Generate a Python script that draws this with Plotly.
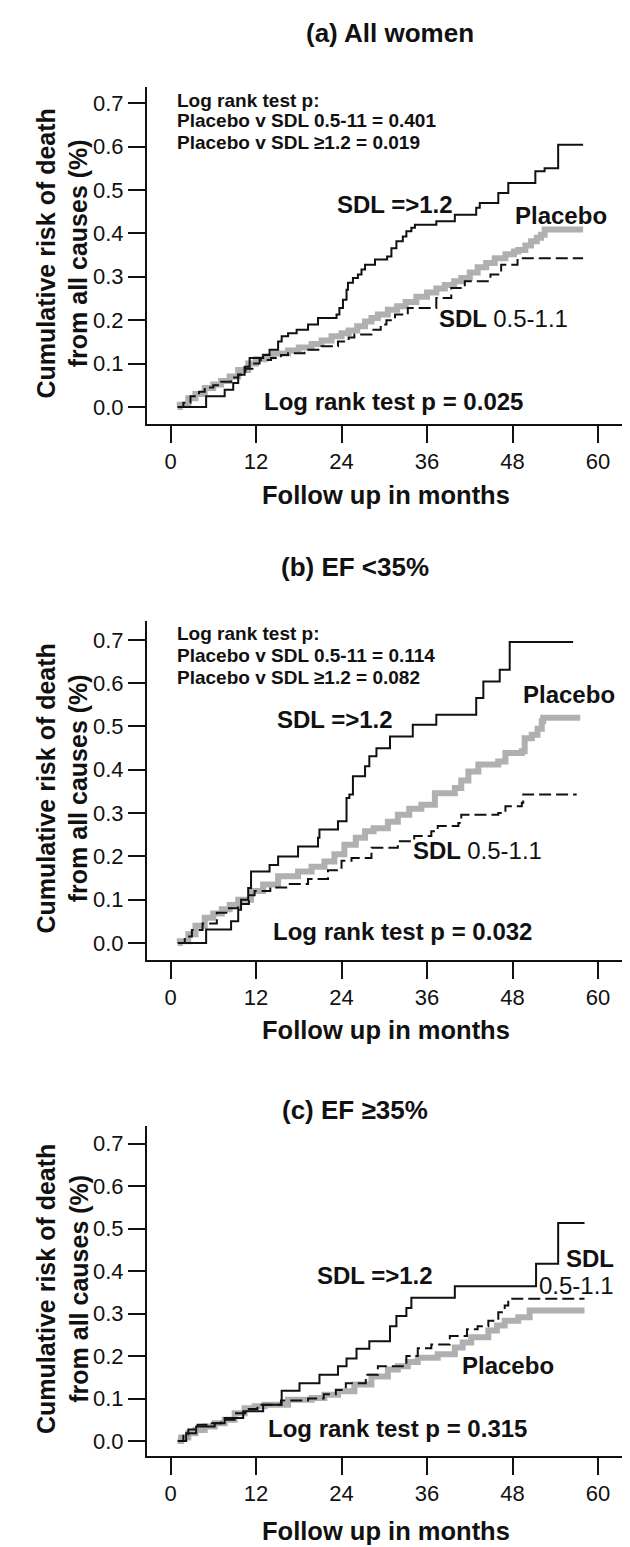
import plotly.graph_objects as go

# ---------------- data (months, cumulative risk) ----------------
# Panel (a) All women
a_hi_t = [1.0,5.0,7.6,8.8,9.5,10.4,11.1,13.0,13.9,15.1,15.6,16.5,17.7,19.3,20.7,23.3,23.7,24.2,24.7,24.9,25.6,26.3,26.8,27.3,28.7,30.4,31.0,31.7,32.6,33.1,33.8,34.3,37.3,39.9,42.9,43.4,46.0,47.4,51.2,52.5,54.4,57.9]
a_hi_v = [0.0,0.025,0.040,0.055,0.074,0.093,0.113,0.12,0.132,0.151,0.163,0.17,0.178,0.19,0.205,0.213,0.228,0.247,0.27,0.286,0.297,0.305,0.317,0.328,0.34,0.347,0.366,0.382,0.393,0.405,0.413,0.42,0.428,0.443,0.459,0.47,0.493,0.516,0.543,0.55,0.604,0.604]
a_pl_t = [1.0,1.3,2.5,3.5,4.8,6.0,7.1,8.3,9.5,10.9,12.0,13.2,14.5,16.5,18.0,19.8,21.2,22.6,24.0,25.0,26.2,27.3,28.2,29.1,30.5,31.8,33.0,34.5,36.0,37.3,38.5,39.8,40.8,42.0,43.1,44.3,45.5,47.0,48.2,48.8,49.8,50.6,51.4,52.0,52.5,57.9]
a_pl_v = [0.0,0.005,0.02,0.03,0.044,0.052,0.06,0.07,0.085,0.1,0.11,0.117,0.123,0.13,0.137,0.145,0.153,0.163,0.17,0.176,0.186,0.197,0.205,0.213,0.224,0.232,0.242,0.254,0.264,0.273,0.281,0.29,0.297,0.31,0.322,0.332,0.343,0.352,0.358,0.362,0.372,0.382,0.39,0.397,0.409,0.409]
a_lo_t = [1.0,1.8,2.8,4.0,4.8,6.0,7.1,8.5,9.5,10.5,11.5,12.5,14.1,15.5,16.5,18.8,21.2,23.5,25.0,25.8,28.2,29.5,30.3,31.5,33.3,37.3,39.4,41.3,44.9,46.4,48.7,57.9]
a_lo_v = [0.0,0.01,0.025,0.035,0.045,0.05,0.058,0.068,0.075,0.088,0.1,0.108,0.113,0.12,0.124,0.132,0.14,0.151,0.16,0.167,0.178,0.19,0.2,0.213,0.228,0.251,0.274,0.29,0.305,0.328,0.343,0.343]

# Panel (b) EF <35%
b_hi_t = [1.05,5.0,8.5,9.5,9.9,10.9,11.3,13.9,15.1,17.9,20.7,20.9,23.5,24.7,25.1,25.6,27.3,27.9,28.9,30.8,34.0,37.3,42.9,43.9,46.2,47.6,56.5]
b_hi_v = [0.0,0.031,0.05,0.077,0.1,0.127,0.165,0.18,0.2,0.223,0.243,0.262,0.281,0.335,0.343,0.385,0.408,0.431,0.45,0.477,0.504,0.527,0.566,0.604,0.631,0.695,0.695]
b_pl_t = [1.0,1.3,2.5,3.5,4.8,6.0,7.2,8.3,9.5,11.3,13.0,15.1,17.9,19.8,21.6,23.0,24.4,26.0,27.3,28.5,30.5,31.9,33.5,35.2,37.1,39.9,40.8,41.8,43.2,46.0,47.0,49.3,49.7,50.7,51.5,52.1,52.3,57.5]
b_pl_v = [0.0,0.004,0.02,0.04,0.058,0.068,0.078,0.088,0.1,0.12,0.135,0.154,0.165,0.176,0.188,0.205,0.227,0.243,0.258,0.265,0.28,0.296,0.31,0.319,0.346,0.358,0.375,0.396,0.412,0.419,0.439,0.443,0.473,0.481,0.495,0.512,0.52,0.52]
b_lo_t = [1.0,2.0,3.0,4.5,6.5,8.0,9.5,11.0,11.8,14.0,16.5,19.3,22.1,24.0,25.4,28.2,31.9,34.2,36.6,37.5,40.4,40.8,46.0,47.0,49.3,49.5,57.0]
b_lo_v = [0.0,0.015,0.03,0.045,0.07,0.08,0.09,0.11,0.12,0.128,0.136,0.148,0.168,0.19,0.196,0.22,0.235,0.247,0.258,0.27,0.277,0.296,0.3,0.316,0.324,0.343,0.343]

# Panel (c) EF >=35%
c_hi_t = [1.05,2.2,3.6,6.2,7.6,10.2,13.0,15.6,18.1,20.9,23.5,24.7,26.1,27.9,30.8,31.7,33.1,33.8,39.9,51.3,54.4,58.1]
c_hi_v = [0.0,0.018,0.034,0.042,0.054,0.07,0.085,0.118,0.136,0.156,0.176,0.194,0.217,0.235,0.27,0.294,0.313,0.337,0.364,0.417,0.513,0.513]
c_pl_t = [1.0,1.5,2.5,3.5,4.8,6.2,7.6,9.0,10.4,11.8,13.2,16.5,19.8,21.6,23.5,25.8,28.2,30.5,31.9,33.3,34.7,37.5,39.9,41.0,42.2,44.6,45.8,46.9,48.8,50.4,58.1]
c_pl_v = [0.0,0.008,0.018,0.026,0.034,0.042,0.05,0.065,0.077,0.082,0.085,0.097,0.101,0.109,0.117,0.133,0.152,0.168,0.176,0.186,0.196,0.204,0.22,0.232,0.244,0.26,0.272,0.283,0.291,0.307,0.307]
c_lo_t = [1.0,1.8,2.5,3.8,5.5,7.1,9.0,10.5,12.2,15.5,19.3,21.5,23.2,24.6,27.4,29.1,33.1,34.7,36.6,39.2,41.6,43.1,44.6,46.0,46.9,47.4,58.1]
c_lo_v = [0.0,0.015,0.027,0.038,0.042,0.05,0.065,0.075,0.085,0.095,0.1,0.11,0.12,0.136,0.156,0.176,0.2,0.218,0.227,0.247,0.263,0.27,0.283,0.303,0.319,0.335,0.335]

x_ticks = [0, 12, 24, 36, 48, 60]
y_ticks = [0.0, 0.1, 0.2, 0.3, 0.4, 0.5, 0.6, 0.7]

panel_titles = ["(a) All women", "(b) EF <35%", "(c) EF \u226535%"]
overall_p = ["0.025", "0.032", "0.315"]
pair_p = [("0.401", "0.019"), ("0.114", "0.082")]

# ---------------- layout ----------------
W, H = 630, 1547
FONT = "Liberation Sans, Arial, sans-serif"

def px(x):
    return x / W

def py(y):
    return 1 - y / H

# plot area pixel boxes: (top, bottom), y range
boxes = [
    (79, 416, [-0.0392, 0.7373]),
    (613, 952, [-0.0393, 0.7436]),
    (1118, 1448, [-0.0353, 0.7412]),
]
x_left, x_right = 139, 615
x_range = [-3.30, 63.5]

series = [
    (a_pl_t, a_pl_v, a_lo_t, a_lo_v, a_hi_t, a_hi_v),
    (b_pl_t, b_pl_v, b_lo_t, b_lo_v, b_hi_t, b_hi_v),
    (c_pl_t, c_pl_v, c_lo_t, c_lo_v, c_hi_t, c_hi_v),
]

fig = go.Figure()
for i, (pt, pv, lt, lv, ht, hv) in enumerate(series):
    xa = "x" if i == 0 else f"x{i+1}"
    ya = "y" if i == 0 else f"y{i+1}"
    fig.add_trace(go.Scatter(x=pt, y=pv, mode="lines", line=dict(color="#b0b0b0", width=6, shape="hv"),
                             xaxis=xa, yaxis=ya, showlegend=False))
    fig.add_trace(go.Scatter(x=lt, y=lv, mode="lines", line=dict(color="#111111", width=2, shape="hv", dash="12px,5px"),
                             xaxis=xa, yaxis=ya, showlegend=False))
    fig.add_trace(go.Scatter(x=ht, y=hv, mode="lines", line=dict(color="#111111", width=2, shape="hv"),
                             xaxis=xa, yaxis=ya, showlegend=False))

axis_common = dict(showline=True, linewidth=2, linecolor="#111111", showgrid=False, zeroline=False,
                   ticks="outside", ticklen=17, tickwidth=2, tickcolor="#111111",
                   tickfont=dict(family=FONT, size=22, color="#111111"))

layout = dict(width=W, height=H, margin=dict(l=0, r=0, t=0, b=0),
              paper_bgcolor="white", plot_bgcolor="white", showlegend=False)
for i, (top, bot, yr) in enumerate(boxes):
    sx = "" if i == 0 else str(i + 1)
    layout[f"xaxis{sx}"] = dict(axis_common, domain=[px(x_left), px(x_right)], range=x_range,
                                tickvals=x_ticks, anchor=f"y{sx}")
    layout[f"yaxis{sx}"] = dict(axis_common, domain=[py(bot), py(top)], range=yr,
                                tickvals=y_ticks, tickformat=".1f", anchor=f"x{sx}")
fig.update_layout(**layout)

ann = []
def text(x, y, s, size, anchor="left", bold=True, angle=0, family=FONT):
    ann.append(dict(x=px(x), y=py(y), xref="paper", yref="paper", text=(f"<b>{s}</b>" if bold else s),
                    showarrow=False, xanchor=anchor, yanchor="middle", textangle=angle,
                    font=dict(family=family, size=size, color="#111111")))

title_pos = [(382, 25), (347, 559), (347, 1102)]
xlab_y = [487, 1022, 1523]
for i, (top, bot, yr) in enumerate(boxes):
    text(title_pos[i][0], title_pos[i][1], panel_titles[i], 26, anchor="center")
    text(378, xlab_y[i], "Follow up in months", 25.5, anchor="center")
    text(54, (top + bot) / 2 - 2, "Cumulative risk of death<br>from all causes (%)", 25, anchor="center", angle=-90)

SM = 19
LB = 24
# Panel a texts
text(167, 92, "Log rank test p:", SM)
text(167, 113, "Placebo v SDL 0.5-11 = " + pair_p[0][0], SM)
text(167, 134, "Placebo v SDL \u22651.2 = " + pair_p[0][1], SM)
text(327, 196, "SDL =>1.2", LB)
text(505, 208, "Placebo", LB)
text(429, 311, "SDL <span style='font-weight:normal'>0.5-1.1</span>", LB)
text(254, 393, "Log rank test p = " + overall_p[0], LB)

# Panel b texts
text(167, 625, "Log rank test p:", SM)
text(167, 647, "Placebo v SDL 0.5-11 = " + pair_p[1][0], SM)
text(167, 669, "Placebo v SDL \u22651.2 = " + pair_p[1][1], SM)
text(267, 712, "SDL =>1.2", LB)
text(513, 686, "Placebo", LB)
text(403, 843, "SDL <span style='font-weight:normal'>0.5-1.1</span>", LB)
text(263, 923, "Log rank test p = " + overall_p[1], LB)

# Panel c texts
text(307, 1267, "SDL =>1.2", LB)
text(608, 1250, "SDL", LB, anchor="right")
text(608, 1277, "<span style='font-weight:normal'>0.5-1.1</span>", LB, anchor="right")
text(452, 1357, "Placebo", LB)
text(258, 1420, "Log rank test p = " + overall_p[2], LB)

fig.update_layout(annotations=ann)
fig.write_html("out.html")
